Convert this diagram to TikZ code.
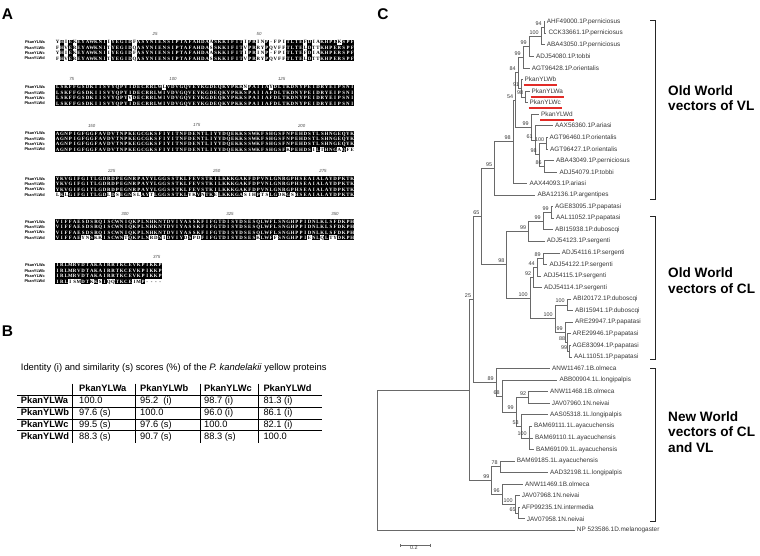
\documentclass[tikz,border=0pt]{standalone}
\usepackage{fontspec}
\setmainfont{Liberation Sans}
\newfontfamily\seqfont{Liberation Serif}
\usepackage{xstring}
\usetikzlibrary{arrows.meta}
\definecolor{hlred}{RGB}{226,44,40}
\definecolor{treegray}{RGB}{105,105,105}
\definecolor{labgray}{RGB}{55,55,55}

% one alignment cell: black when at least three of the four residues agree
\newcount\alnhits
\newcommand\alncell[3]{%
  \alnhits=0
  \ifx#1\alnA\advance\alnhits by 1 \fi
  \ifx#1\alnB\advance\alnhits by 1 \fi
  \ifx#1\alnC\advance\alnhits by 1 \fi
  \ifx#1\alnD\advance\alnhits by 1 \fi
  \ifnum\alnhits>2
    \fill ({#2-2.17},{#3-2.72}) rectangle ({#2+2.17},{#3+2.72});
    \node[res, text=white] at ({#2},{#3}) {#1};
  \else
    \node[res] at ({#2},{#3}) {#1};
  \fi}
% one block of four aligned rows
\newcommand\alnblock[5]{%
  \def\alnrowA{#2}\def\alnrowB{#3}\def\alnrowC{#4}\def\alnrowD{#5}%
  \StrLen{#2}[\alnlen]%
  \foreach \k in {1,...,\alnlen}{%
    \StrChar{\alnrowA}{\k}[\alnA]\StrChar{\alnrowB}{\k}[\alnB]%
    \StrChar{\alnrowC}{\k}[\alnC]\StrChar{\alnrowD}{\k}[\alnD]%
    \pgfmathsetmacro\alnx{55.5+(\k-0.5)*4.27}%
    \alncell{\alnA}{\alnx}{#1}%
    \alncell{\alnB}{\alnx}{#1+5.35}%
    \alncell{\alnC}{\alnx}{#1+10.7}%
    \alncell{\alnD}{\alnx}{#1+16.05}%
  }}

\begin{document}
\begin{tikzpicture}[x=1pt, y=-1pt,
  panel/.style={font=\fontsize{15.5}{16}\selectfont\bfseries, inner sep=0},
  alnlab/.style={font=\fontsize{3.9}{4}\selectfont\bfseries, anchor=east, inner sep=0},
  res/.style={font=\seqfont\bfseries\fontsize{4.9}{5}\selectfont, inner sep=0, text height=3.3pt, text depth=0pt},
  alnnum/.style={font=\fontsize{4.4}{4.4}\selectfont\itshape, text=black!70, inner sep=0},
  tabtxt/.style={font=\fontsize{9.3}{10}\selectfont, anchor=west, inner sep=0, text height=6.7pt, text depth=1.9pt},
  tabhead/.style={tabtxt, font=\fontsize{9.3}{10}\selectfont\bfseries},
  tabrule/.style={line width=0.9pt},
  tabsep/.style={line width=0.6pt},
  leaf/.style={font=\fontsize{6.4}{7}\selectfont, text=labgray, anchor=west, inner xsep=2pt, inner ysep=0pt},
  boot/.style={font=\fontsize{5.4}{6}\selectfont, text=labgray, anchor=south east, inner sep=0.5pt, xshift=-1.6pt, yshift=1.2pt},
  branch/.style={draw=treegray, line width=0.65pt},
  hl/.style={draw=hlred, line width=2pt},
  bracket/.style={draw=black!85, line width=0.8pt},
  grp/.style={font=\fontsize{13.6}{15.5}\selectfont\bfseries, align=left, anchor=west, inner sep=0}]
\useasboundingbox (0,0) rectangle (760,555);

% ---------------- A: alignment ----------------
\node[panel] (labA) at (7.5,13.8) {A};
\foreach \by in {42.3,87.3,133.5,178.7,221.7,265.3}
  \foreach \nm [count=\r from 0] in {a,b,c,d}
    \node[alnlab] (row\nm) at (45,{\by+\r*5.35}) {PkanYLW\nm};

\alnblock{42.3}
  {YHIEKEYAWKNIIYEGIDFASYNIENSIPTAFAHDAASKKIFITIPRINP-FPITLTEFDIAKHPEKSPF}
  {FHVEREYAWKNITYEGIDQASYNIENSIPTAFAHDASSKKIFITVPRRYPQVFFTLTELDTTKHPERSPF}
  {YHIEKEYAWKNIIYEGIDFASYNIENSIPTAFAHDAASKKIFITIPRINP-FPITLTEFDIAKHPERSPF}
  {FHVEREYAWKNITYEGIDQASYNIENSIPTAFAHDASSKKIFITVPRRYPQVFFTLTELDTTKHPERSPF}
\alnblock{87.3}
  {LSKFFGSDKIISVYQPYIDECRRLWLVDVGQVEYKGDEQKYPKKNPAIIAYDLTKDNYPEIDRYEIPSNI}
  {LSKFFGSDKIISVYQPYIDECRRLWIVDVGQVEYKGDEQKYPKKSPAIIAFDLTKDNYPEIDRYEIPSNI}
  {LSKFFGSDKIISVYQPYVDECRRLWIVDVGQVEYKGDEQKYPKKSPAIIAFDLTKDNYPEIDRYEIPSNI}
  {LSKFFGSDKIISVYQPYIDECRRLWIVDVGQVEYKGDEQKYPKKSPAIIAFDLTKDNYPEIDRYEIPSNI}
\alnblock{133.5}
  {AGNPIGFGGFAVDVTNPKEGCGKSFIYITNFDENTLIYYDQEKKSSWKFSHGSFNPEHDSTLSHNGEQYK}
  {AGNPIGFGGFAVDVTNPKEGCGKSFIYITNFDENTLIYYDQEKKSSWKFSHGSFNPEHDSTLSHNGEQYK}
  {AGNPIGFGGFAVDVTNPKEGCGKSFIYITNFDENTLIYYDQEKKSSWKFSHGSFNPEHDSTLSHNGEQYK}
  {AGNPIGFGGFAVDVTNPKEGCGKSFIYITNFDENTLIYYDQEKKSSWKFSHGSFKPEHDSILTHNGAQFE}
\alnblock{178.7}
  {YKVGIFGITLGDRDPEGNRPAYYLGGSSTKLFEVSTKILKKKGAKFDPVNLGNRGPHSEAIALAYDPKTK}
  {YKVGIFGITLGDRDPEGNRPAYYLGGSSTKLFEVSTKILKKKGAKFDPVNLGNRGPHSEAIALAYDPKTK}
  {YKVGIFGITLGDRDPEGNRPAYYLGGSSTKLFEVSTKILKKKGAKFDPVNLGNRGPHSEAIALAYDPKTK}
  {LKLGIFGITLGDLDSEGNSLAYTLGGSSTKLYKVNTKELKKKGASIHPTSLGDKGSHSEAIALAYDPKTK}
\alnblock{221.7}
  {VIFFAESDSRQISCWNIQKPLNHKNTDVIYASSKFIFGTDISYDSESQLWFLSNGHPPIDNLKLSFDKPH}
  {VIFFAESDSRQISCWNIQKPLNHKNTDVIYASSKFIFGTDISYDSESQLWFLSNGHPPIDNLKLSFDKPH}
  {VIFFAESDSRQISCWNIQKPLNHKNTDVIYASSKFIFGTDISYDSESQLWFLSNGHPPIDNLKLSFDKPH}
  {VIFFAEYNSKKISCWNTQKPLNRDNIDVIYDSPDFIFGTDISYDSESKLWFFSNGHPPIENLQLTYDKPH}
\alnblock{265.3}
  {IRLMRVDTAKAIRRTKCEVKPIKKP}
  {IRLMRVDTAKAIRRTKCEVKPIKKP}
  {IRLMRVDTAKAIRRTKCEVKPIKKP}
  {IRLISMDTKKSIQQTKCEIMP----}

% position numbers
\foreach \nx/\ny/\nv in {155/34.3/25, 259/34.3/50, 71.7/79.3/75, 173/79.3/100, 281.7/79.3/125,
    91.7/125.5/150, 196.7/125.5/175, 301.7/125.5/200, 111.7/170.7/225, 216.7/170.7/250, 323/170.7/275,
    125/213.7/300, 230/213.7/325, 335/213.7/350, 156.7/257.3/375}
  \node[alnnum] (pos\nv) at (\nx,\ny) {\nv};

% ---------------- B: identity table ----------------
\node[panel] (labB) at (7.5,331) {B};
\node[anchor=west, inner sep=0, font=\fontsize{9.4}{10}\selectfont] (title) at (20.7,368)
  {Identity (i) and similarity (s) scores (\%) of the \textit{P. kandelakii} yellow proteins};
\foreach \lab/\cx in {PkanYLWa/79, PkanYLWb/140, PkanYLWc/204, PkanYLWd/263.3}
  \node[tabhead] (head-\lab) at (\cx,389.5) {\lab};
\foreach \lab/\ry/\ca/\cb/\cc/\cd in {
    PkanYLWa/401.3/100.0/95.2\ \ (i)/98.7 (i)/81.3 (i),
    PkanYLWb/413.1/97.6 (s)/100.0/96.0 (i)/86.1 (i),
    PkanYLWc/424.9/99.5 (s)/97.6 (s)/100.0/82.1 (i),
    PkanYLWd/436.7/88.3 (s)/90.7 (s)/88.3 (s)/100.0}{
  \node[tabhead] (rl-\lab) at (20.7,\ry) {\lab};
  \node[tabtxt] (ca-\lab) at (79,\ry) {\ca};
  \node[tabtxt] (cb-\lab) at (140,\ry) {\cb};
  \node[tabtxt] (cc-\lab) at (204,\ry) {\cc};
  \node[tabtxt] (cd-\lab) at (263.3,\ry) {\cd};
}
\foreach \ly in {395.4,407.2,419,430.8} \draw[tabrule] (17,\ly) -- (322,\ly);
\foreach \lx in {72.7,135.7,200,258.3} \draw[tabsep] (\lx,383.5) -- (\lx,442.5);

% ---------------- C: tree ----------------
\node[panel] (labC) at (383,13.8) {C};

% leaves
\node[leaf] (l1) at (544.7,21.7) {AHF49000.1P.perniciosus};
\node[leaf] (l2) at (546.3,33.3) {CCK33661.1P.perniciosus};
\node[leaf] (l3) at (544.7,44.8) {ABA43050.1P.perniciosus};
\node[leaf] (l4) at (534,56.4) {ADJ54080.1P.tobbi};
\node[leaf] (l5) at (529.7,67.9) {AGT96428.1P.orientalis};
\node[leaf] (l6) at (522.5,79.5) {PkanYLWb};
\node[leaf] (l7) at (529.5,91.1) {PkanYLWa};
\node[leaf] (l8) at (527.5,102.6) {PkanYLWc};
\node[leaf] (l9) at (539,114.2) {PkanYLWd};
\node[leaf] (l10) at (553,125.7) {AAX56360.1P.ariasi};
\node[leaf] (l11) at (547.3,137.3) {AGT96460.1P.orientalis};
\node[leaf] (l12) at (548,148.9) {AGT96427.1P.orientalis};
\node[leaf] (l13) at (554,160.4) {ABA43049.1P.perniciosus};
\node[leaf] (l14) at (557.3,172) {ADJ54079.1P.tobbi};
\node[leaf] (l15) at (527.3,183.5) {AAX44093.1P.ariasi};
\node[leaf] (l16) at (535.3,195.1) {ABA12136.1P.argentipes};
\node[leaf] (l17) at (553,206.7) {AGE83095.1P.papatasi};
\node[leaf] (l18) at (554,218.2) {AAL11052.1P.papatasi};
\node[leaf] (l19) at (553,229.8) {ABI15938.1P.duboscqi};
\node[leaf] (l20) at (544.7,241.3) {ADJ54123.1P.sergenti};
\node[leaf] (l21) at (559.7,252.9) {ADJ54116.1P.sergenti};
\node[leaf] (l22) at (547.3,264.5) {ADJ54122.1P.sergenti};
\node[leaf] (l23) at (541.3,276) {ADJ54115.1P.sergenti};
\node[leaf] (l24) at (542,287.6) {ADJ54114.1P.sergenti};
\node[leaf] (l25) at (571,299.1) {ABI20172.1P.duboscqi};
\node[leaf] (l26) at (573,310.7) {ABI15941.1P.duboscqi};
\node[leaf] (l27) at (573,322.3) {ARE29947.1P.papatasi};
\node[leaf] (l28) at (570.5,333.8) {ARE29946.1P.papatasi};
\node[leaf] (l29) at (570.5,345.4) {AGE83094.1P.papatasi};
\node[leaf] (l30) at (572,356.9) {AAL11051.1P.papatasi};
\node[leaf] (l31) at (550,368.5) {ANW11467.1B.olmeca};
\node[leaf] (l32) at (557.3,380.1) {ABB00904.1L.longipalpis};
\node[leaf] (l33) at (548,391.6) {ANW11468.1B.olmeca};
\node[leaf] (l34) at (549.7,403.2) {JAV07960.1N.neivai};
\node[leaf] (l35) at (548,414.7) {AAS05318.1L.longipalpis};
\node[leaf] (l36) at (532,426.3) {BAM69111.1L.ayacuchensis};
\node[leaf] (l37) at (533,437.9) {BAM69110.1L.ayacuchensis};
\node[leaf] (l38) at (534,449.4) {BAM69109.1L.ayacuchensis};
\node[leaf] (l39) at (514.7,461) {BAM69185.1L.ayacuchensis};
\node[leaf] (l40) at (548,472.5) {AAD32198.1L.longipalpis};
\node[leaf] (l41) at (523,484.1) {ANW11469.1B.olmeca};
\node[leaf] (l42) at (519.7,495.7) {JAV07968.1N.neivai};
\node[leaf] (l43) at (519.7,507.2) {AFP99235.1N.intermedia};
\node[leaf] (l44) at (524.7,518.8) {JAV07958.1N.neivai};
\node[leaf] (l45) at (574.7,530.3) {NP 523586.1D.melanogaster};

% inner nodes
\coordinate (b94) at (544,27.5);
\coordinate (b100) at (541,36.2);
\coordinate (b99c) at (529,46.3);
\coordinate (b99d) at (523,57.1);
\coordinate (b98p) at (525.5,96.9);
\coordinate (b91) at (521.5,88.2);
\coordinate (b84) at (518,72.7);
\coordinate (b100o) at (546.5,143.1);
\coordinate (b86) at (544,166.2);
\coordinate (b98o) at (539,154.7);
\coordinate (b61) at (535,140.2);
\coordinate (b99p) at (531,127.2);
\coordinate (b54) at (515.5,100);
\coordinate (b98v) at (513,141.8);
\coordinate (b95) at (494.3,168.5);
\coordinate (c99a) at (551,212.5);
\coordinate (c99b) at (543,221.2);
\coordinate (c99c) at (528.3,231.3);
\coordinate (c89) at (543,258.7);
\coordinate (c44) at (537,267.4);
\coordinate (c92) at (533.5,277.5);
\coordinate (c100d) at (567,304.9);
\coordinate (c99q) at (569.5,351.2);
\coordinate (c88) at (567.5,342.5);
\coordinate (c99p) at (565,332.4);
\coordinate (c100e) at (555,318.7);
\coordinate (c100c) at (530,298.1);
\coordinate (c98) at (506.7,264.7);
\coordinate (o65) at (481.7,216.6);
\coordinate (w100) at (529,437.9);
\coordinate (w53) at (521,426.3);
\coordinate (w92) at (528.3,397.4);
\coordinate (w99) at (516,411.9);
\coordinate (w68) at (502,396);
\coordinate (w89) at (496,382.3);
\coordinate (o25) at (473.3,299.5);
\coordinate (v78) at (500,466.8);
\coordinate (v65) at (518,513);
\coordinate (v100) at (515,504.4);
\coordinate (v96) at (502,494.3);
\coordinate (v99) at (491.7,480.6);
\coordinate (top) at (469,390.1);
\coordinate (root) at (377,460.2);

% Old World, VL
\draw[branch] (b94) |- (l1.west) (b94) |- (l2.west);
\draw[branch] (b100) |- (b94) (b100) |- (l3.west);
\draw[branch] (b99c) |- (b100) (b99c) |- (l4.west);
\draw[branch] (b99d) |- (b99c) (b99d) |- (l5.west);
\draw[branch] (b98p) |- (l7.west) (b98p) |- (l8.west);
\draw[branch] (b91) |- (l6.west) (b91) |- (b98p);
\draw[branch] (b84) |- (b99d) (b84) |- (b91);
\draw[branch] (b100o) |- (l11.west) (b100o) |- (l12.west);
\draw[branch] (b86) |- (l13.west) (b86) |- (l14.west);
\draw[branch] (b98o) |- (b100o) (b98o) |- (b86);
\draw[branch] (b61) |- (l10.west) (b61) |- (b98o);
\draw[branch] (b99p) |- (l9.west) (b99p) |- (b61);
\draw[branch] (b54) |- (b84) (b54) |- (b99p);
\draw[branch] (b98v) |- (b54) (b98v) |- (l15.west);
\draw[branch] (b95) |- (b98v) (b95) |- (l16.west);

% Old World, CL
\draw[branch] (c99a) |- (l17.west) (c99a) |- (l18.west);
\draw[branch] (c99b) |- (c99a) (c99b) |- (l19.west);
\draw[branch] (c99c) |- (c99b) (c99c) |- (l20.west);
\draw[branch] (c89) |- (l21.west) (c89) |- (l22.west);
\draw[branch] (c44) |- (c89) (c44) |- (l23.west);
\draw[branch] (c92) |- (c44) (c92) |- (l24.west);
\draw[branch] (c100d) |- (l25.west) (c100d) |- (l26.west);
\draw[branch] (c99q) |- (l29.west) (c99q) |- (l30.west);
\draw[branch] (c88) |- (l28.west) (c88) |- (c99q);
\draw[branch] (c99p) |- (l27.west) (c99p) |- (c88);
\draw[branch] (c100e) |- (c100d) (c100e) |- (c99p);
\draw[branch] (c100c) |- (c92) (c100c) |- (c100e);
\draw[branch] (c98) |- (c99c) (c98) |- (c100c);
\draw[branch] (o65) |- (b95) (o65) |- (c98);

% New World
\draw[branch] (w100) |- (l36.west) (w100) |- (l37.west) (w100) |- (l38.west);
\draw[branch] (w53) |- (l35.west) (w53) |- (w100);
\draw[branch] (w92) |- (l33.west) (w92) |- (l34.west);
\draw[branch] (w99) |- (w92) (w99) |- (w53);
\draw[branch] (w68) |- (l32.west) (w68) |- (w99);
\draw[branch] (w89) |- (l31.west) (w89) |- (w68);
\draw[branch] (o25) |- (o65) (o25) |- (w89);
\draw[branch] (v78) |- (l39.west) (v78) |- (l40.west);
\draw[branch] (v65) |- (l43.west) (v65) |- (l44.west);
\draw[branch] (v100) |- (l42.west) (v100) |- (v65);
\draw[branch] (v96) |- (l41.west) (v96) |- (v100);
\draw[branch] (v99) |- (v78) (v99) |- (v96);
\draw[branch] (top) |- (o25) (top) |- (v99);
\draw[branch] (root) |- (top) (root) |- (l45.west);

% bootstrap values
\foreach \n/\v in {b94/94, b100/100, b99c/99, b99d/99, b98p/98, b91/91, b84/84, b100o/100, b86/86,
    b98o/98, b61/61, b99p/99, b54/54, b98v/98, b95/95, c99a/99, c99b/99, c99c/99, c89/89, c44/44,
    c92/92, c100d/100, c99q/99, c88/88, c99p/99, c100e/100, c100c/100, c98/98, o65/65, w100/100,
    w53/53, w92/92, w99/99, w68/68, w89/89, o25/25, v78/78, v65/65, v100/100, v96/96, v99/99}
  \node[boot] (bs-\n) at (\n) {\v};

% the four P. kandelakii proteins
\foreach \n in {6,7,8,9}
  \draw[hl] ([xshift=1pt,yshift=-3.2pt]l\n.south west) -- ([xshift=-1pt,yshift=-3.2pt]l\n.south east);

% groups
\draw[bracket] (650,20) -- (655,20) -- (655,199) -- (650,199);
\draw[bracket] (650,216) -- (655,216) -- (655,359) -- (650,359);
\draw[bracket] (650,368) -- (655,368) -- (655,521) -- (650,521);
\node[grp] (gVL) at (668,98.3) {Old World\\vectors of VL};
\node[grp] (gCL) at (668,280.8) {Old World\\vectors of CL};
\node[grp] (gNW) at (668,431.7) {New World\\vectors of CL\\and VL};

% scale
\coordinate (sb0) at (400,545);
\coordinate (sb1) at (431,545);
\draw[branch, {Bar[width=3pt]}-{Bar[width=3pt]}] (sb0) -- (sb1);
\node[boot, anchor=north, xshift=0pt, yshift=-1pt] (sbl) at (415.5,545) {0.2};
\end{tikzpicture}
\end{document}
